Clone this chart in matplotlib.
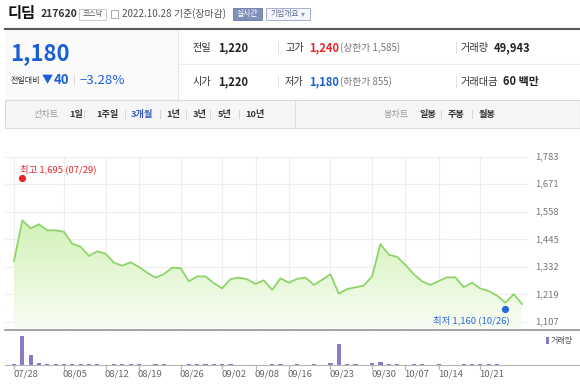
import numpy as np
import pandas as pd
import matplotlib.pyplot as plt
from matplotlib.patches import Rectangle, Polygon
from matplotlib.lines import Line2D

plt.rcParams['font.family'] = ['Noto Sans CJK KR', 'DejaVu Sans']

# 거래일 (공휴일 제외)
holidays = ['2022-08-15', '2022-09-09', '2022-09-12', '2022-10-03', '2022-10-10']
days = pd.bdate_range('2022-07-28', '2022-10-28')
days = days[~days.isin(pd.to_datetime(holidays))]
dates = list(days.strftime('%m/%d'))

# 종가
closes = [1356, 1523, 1490, 1507, 1482, 1482, 1476, 1427, 1415, 1377, 1396, 1386,
          1349, 1337, 1351, 1332, 1308, 1288, 1302, 1329, 1327, 1273, 1293, 1293,
          1265, 1244, 1282, 1288, 1281, 1262, 1277, 1238, 1285, 1267, 1283, 1288,
          1258, 1279, 1302, 1222, 1241, 1248, 1255, 1293, 1426, 1382, 1373, 1340,
          1302, 1273, 1258, 1274, 1289, 1289, 1249, 1267, 1243, 1233, 1214, 1185,
          1220, 1180]

# 거래량 (천주)
volumes = [40, 1160, 400, 90, 40, 40, 40, 40, 40, 40, 40, 10,
           55, 40, 55, 55, 10, 40, 40, 10, 10, 40, 40, 40,
           40, 55, 40, 10, 10, 10, 10, 40, 40, 10, 40, 10,
           40, 10, 95, 850, 40, 40, 10, 70, 120, 40, 40, 10,
           40, 40, 10, 40, 10, 10, 40, 40, 40, 40, 40, 10,
           10, 10]

tick_dates = ['07/28', '08/05', '08/12', '08/19', '08/26', '09/02', '09/08',
              '09/16', '09/23', '09/30', '10/07', '10/14', '10/21']
y_ticks = [1107, 1219, 1332, 1445, 1558, 1671, 1783]
y_labels = ['1,107', '1,219', '1,332', '1,445', '1,558', '1,671', '1,783']

high_val, high_date = 1695, '07/29'
low_val, low_date = 1160, '10/26'

RED = '#e8262a'
BLUE = '#1b5fd8'

W, H = 580, 392
fig = plt.figure(figsize=(W / 100, H / 100), dpi=100)


def fx(x):
    return x / W


def fy(y):
    return 1 - y / H


def txt(x, y, s, **kw):
    kw.setdefault('va', 'center')
    fig.text(fx(x), fy(y), s, **kw)


def box(x0, y0, x1, y1, **kw):
    fig.add_artist(Rectangle((fx(x0), fy(y1)), (x1 - x0) / W, (y1 - y0) / H,
                             transform=fig.transFigure, **kw))


def line(x0, y0, x1, y1, **kw):
    fig.add_artist(Line2D([fx(x0), fx(x1)], [fy(y0), fy(y1)],
                          transform=fig.transFigure, **kw))


# ---- 헤더 ----
txt(8, 13, '디딤', fontsize=11, fontweight='bold', color='#111')
txt(41, 14, '217620', fontsize=7.5, fontweight='bold', color='#333')
box(79, 8.5, 106, 19.5, fc='white', ec='#cccccc', lw=0.7)
txt(92.5, 14, '코스닥', fontsize=5.3, color='#555', ha='center')
box(110.5, 9.5, 118, 18, fc='white', ec='#aaaaaa', lw=0.7)
txt(122, 13.5, '2022.10.28 기준(장마감)', fontsize=7.1, color='#555')
box(233, 8, 262, 19.5, fc='#8091b9', ec='#7384ad', lw=0.7)
txt(247.5, 13.8, '실시간', fontsize=5.6, color='white', ha='center')
box(266, 8, 310, 19.5, fc='#f4f6fb', ec='#a4afcc', lw=0.7)
txt(270, 13.8, '기업개요', fontsize=5.6, color='#5a6890')
txt(301, 13.8, '▾', fontsize=5.6, color='#8a94b0')

line(5, 28.5, 580, 28.5, color='#55585e', lw=1.5)
box(5, 29.5, 178, 100, fc='#fafafa', ec='none')
line(178, 29.5, 178, 100, color='#e3e3e3', lw=0.8)
line(178, 64, 580, 64, color='#ececec', lw=0.8)

txt(10, 54, '1,180', fontsize=16, fontweight='bold', color=BLUE)
txt(11, 80, '전일대비', fontsize=5.8, color='#333')
txt(42, 80, '▼', fontsize=8, color=BLUE)
txt(54, 80, '40', fontsize=9.5, fontweight='bold', color=BLUE)
txt(73, 80, '|', fontsize=7, color='#cccccc')
txt(79, 80, '−3.28%', fontsize=9.5, color=BLUE)

rows = [(48, '전일', '1,220', '고가', '1,240', RED, '(상한가 1,585)', '거래량', '49,943', 494),
        (82, '시가', '1,220', '저가', '1,180', BLUE, '(하한가 855)', '거래대금', '60 백만', 503)]
for y, l1, v1, l2, v2, c2, extra, l3, v3, x3 in rows:
    txt(193, y, l1, fontsize=7.3, color='#333')
    txt(218, y, v1, fontsize=8, fontweight='bold', color='#222')
    txt(277, y, '|', fontsize=7, color='#d0d0d0')
    txt(285, y, l2, fontsize=7.3, color='#333')
    txt(309, y, v2, fontsize=8, fontweight='bold', color=c2)
    txt(340, y, extra, fontsize=7, color='#777')
    txt(455, y, '|', fontsize=7, color='#d0d0d0')
    txt(461, y, l3, fontsize=7.3, color='#333')
    txt(x3, y, v3, fontsize=8, fontweight='bold', color='#222')

# ---- 탭 ----
box(5, 100.5, 580, 128, fc='#f5f6f8', ec='#d9dbe0', lw=0.8)
line(295, 101, 295, 128, color='#dcdde2', lw=0.8)
tabs = [(33, '선차트', '#999999', 'normal'), (69, '1일', '#333', 'bold'),
        (96, '1주일', '#333', 'bold'), (131, '3개월', '#3d5fc0', 'bold'),
        (166, '1년', '#333', 'bold'), (193, '3년', '#333', 'bold'),
        (218, '5년', '#333', 'bold'), (245, '10년', '#333', 'bold'),
        (384, '봉차트', '#999999', 'normal'), (420, '일봉', '#333', 'bold'),
        (448, '주봉', '#333', 'bold'), (479, '월봉', '#333', 'bold')]
for x, s, c, w in tabs:
    txt(x, 114, s, fontsize=6.6, color=c, fontweight=w)
for x in [84, 125, 160, 186, 210, 239, 441, 472]:
    line(x, 110, x, 118, color='#d5d5d5', lw=0.7)

# ---- 가격 차트 ----
step = (522 - 14) / 61
xmin, xmax = (5 - 14) / step, (580 - 14) / step
ppx = (1783 - 1107) / (321.7 - 157)
y_lo = 1107 - (329.5 - 321.7) * ppx
y_hi = 1783 + (157 - 150) * ppx

ax = fig.add_axes([fx(5), fy(329.5), 575 / W, (329.5 - 150) / H])
ax.axis('off')
xs = np.arange(len(closes))
tick_idx = [dates.index(d) for d in tick_dates]

x_grid_end = (528 - 14) / step
ax.hlines(y_ticks, xmin, x_grid_end, color='#eeeeee', lw=0.8, zorder=0)
ax.vlines(tick_idx, y_lo, 1783, color='#eeeeee', lw=0.8, zorder=0)

verts = np.vstack([np.column_stack([xs, closes]), [[xs[-1], y_lo], [xs[0], y_lo]]])
clip = Polygon(verts, closed=True, transform=ax.transData, fc='none', ec='none')
ax.add_patch(clip)
top_c = np.array([0.82, 0.95, 0.72])
bot_c = np.array([0.975, 0.99, 0.955])
g = np.linspace(0, 1, 256).reshape(-1, 1, 1)
img = top_c + (bot_c - top_c) * g
im = ax.imshow(img, extent=[xs[0], xs[-1], y_lo, max(closes)], origin='upper',
               aspect='auto', zorder=1, interpolation='bilinear')
im.set_clip_path(clip)

ax.plot(xs, closes, color='#8fd46a', lw=1.3, zorder=3, solid_joinstyle='round')

hi_i = dates.index(high_date)
lo_i = dates.index(low_date)
ax.plot(hi_i, high_val, 'o', color=RED, ms=4.2, zorder=4)
ax.annotate('최고 %s (%s)' % (f'{high_val:,}', high_date), (hi_i, high_val),
            xytext=(-1.5, 6.5), textcoords='offset points', ha='left', va='center',
            fontsize=6.8, color=RED)
ax.plot(lo_i, low_val, 'o', color='#2a66d6', ms=4.2, zorder=4)
ax.annotate('최저 %s (%s)' % (f'{low_val:,}', low_date), (lo_i, low_val),
            xytext=(3, -8.5), textcoords='offset points', ha='right', va='center',
            fontsize=6.8, color='#2a66d6')

for v, lab in zip(y_ticks, y_labels):
    ax.text((535 - 14) / step, v, lab, fontsize=6.8, color='#777', ha='left', va='center')

ax.set_xlim(xmin, xmax)
ax.set_ylim(y_lo, y_hi)

line(5, 329.8, 580, 329.8, color='#8c8c8c', lw=1.1)

# ---- 거래량 ----
vax = fig.add_axes([fx(5), fy(365), 575 / W, 35 / H])
vax.axis('off')
vax.bar(xs, volumes, width=0.5, color='#8c78c4', zorder=2)
vax.set_xlim(xmin, xmax)
vax.set_ylim(0, 1400)

line(5, 365.3, 580, 365.3, color='#b5b5b5', lw=0.8)
for i, d in zip(tick_idx, tick_dates):
    px = 14 + i * step
    line(px, 365.3, px, 369, color='#b5b5b5', lw=0.8)
    txt(px - 1, 374.5, d, fontsize=6.8, color='#666', ha='left')

box(546, 336.5, 548.5, 343.5, fc='#8c78c4', ec='none')
txt(551, 340, '거래량', fontsize=5.8, color='#555')

fig.savefig('out.png', dpi=100)
